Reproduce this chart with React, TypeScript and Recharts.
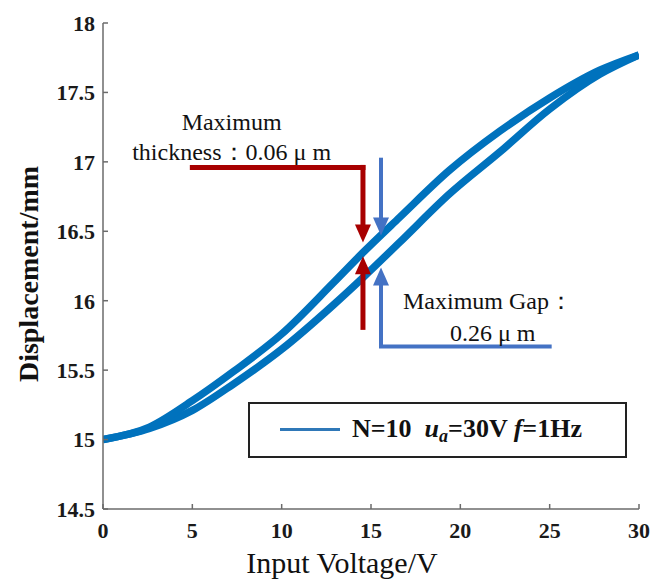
import { LineChart, Line, XAxis, YAxis, ReferenceLine, ReferenceDot, Legend, Label } from 'recharts'

// hysteresis loop
const voltage = [0, 2.6, 5, 7.3, 10, 12.9, 14.5, 16.6, 19.4, 22.2, 25, 27.8, 30]
const upperBranch = [15.0, 15.09, 15.28, 15.49, 15.76, 16.13, 16.34, 16.6, 16.94, 17.22, 17.46, 17.66, 17.77]
const lowerBranch = [15.0, 15.08, 15.21, 15.4, 15.65, 15.97, 16.16, 16.42, 16.77, 17.07, 17.38, 17.63, 17.77]

const xTicks = [0, 5, 10, 15, 20, 25, 30]
const yTicks = [14.5, 15, 15.5, 16, 16.5, 17, 17.5, 18]

const upperData = voltage.map((v, i) => ({ v, d: upperBranch[i] }))
const lowerData = voltage.map((v, i) => ({ v, d: lowerBranch[i] }))

const RED = '#a80000'
const BLUE = '#4472c4'
const CURVE = '#0072bd'
const AXIS = '#6b6b6b'
const SERIF = '"Liberation Serif", "Times New Roman", serif'

const tickStyle = { fontFamily: SERIF, fontWeight: 'bold', fontSize: 22, fill: '#1a1a1a' }

const Arrow = ({ cx, cy, color, dir }: any) => {
  const h = 18
  const w = 8
  const b = dir === 'down' ? cy - h : cy + h
  return <polygon points={`${cx},${cy} ${cx - w},${b} ${cx + w},${b}`} fill={color} />
}

const Note = ({ cx, cy, text, anchor }: any) => (
  <text x={cx} y={cy} textAnchor={anchor} fontFamily={SERIF} fontSize={24} fill="#111">
    {text}
  </text>
)

const LegendBox = () => (
  <div
    style={{
      boxSizing: 'border-box',
      width: 379,
      height: 56,
      border: '2.5px solid #222',
      background: '#fff',
      position: 'relative',
      fontFamily: SERIF,
      fontWeight: 'bold',
      fontSize: 26,
      color: '#111',
    }}
  >
    <div style={{ position: 'absolute', left: 30, top: 24, width: 60, height: 3, background: '#2f78b8' }} />
    <div style={{ position: 'absolute', left: 102, top: 10, whiteSpace: 'nowrap', lineHeight: '30px' }}>
      N=10&nbsp;&nbsp;<i>u</i>
      <i style={{ fontSize: 18, position: 'relative', top: 5 }}>a</i>=30V <i>f</i>=1Hz
    </div>
  </div>
)

export default function App() {
  return (
    <div style={{ position: 'absolute', left: 0, top: 0, background: '#fff' }}>
      <LineChart width={653} height={579} margin={{ top: 23, right: 14, bottom: 0, left: 0 }}>
        <XAxis
          dataKey="v"
          type="number"
          domain={[0, 30]}
          ticks={xTicks}
          height={70}
          stroke={AXIS}
          strokeWidth={1.5}
          tickSize={-5}
          tickMargin={18}
          tick={tickStyle}
          allowDataOverflow
        >
          <Label
            content={({ viewBox }: any) => (
              <text x={342} y={viewBox.y + 64} textAnchor="middle" fontFamily={SERIF} fontSize={30} fill="#111">
                Input Voltage/V
              </text>
            )}
          />
        </XAxis>
        <XAxis
          xAxisId="top"
          orientation="top"
          type="number"
          domain={[0, 30]}
          ticks={xTicks}
          height={0}
          stroke={AXIS}
          strokeWidth={1.5}
          tickSize={-5}
          tick={false}
        />
        <YAxis
          type="number"
          domain={[14.5, 18]}
          ticks={yTicks}
          width={103}
          stroke={AXIS}
          strokeWidth={1.5}
          tickSize={-5}
          tickMargin={13}
          tick={tickStyle}
          allowDataOverflow
        >
          <Label
            content={({ viewBox }: any) => {
              const cx = viewBox.x + 38
              const cy = viewBox.y + viewBox.height / 2 + 8
              return (
                <text
                  x={cx}
                  y={cy}
                  transform={`rotate(-90, ${cx}, ${cy})`}
                  textAnchor="middle"
                  fontFamily={SERIF}
                  fontWeight="bold"
                  fontSize={28}
                  fill="#111"
                >
                  Displacement/mm
                </text>
              )
            }}
          />
        </YAxis>
        <YAxis
          yAxisId="right"
          orientation="right"
          type="number"
          domain={[14.5, 18]}
          ticks={yTicks}
          width={0}
          stroke={AXIS}
          strokeWidth={1.5}
          tickSize={-5}
          tick={false}
        />

        <Line data={lowerData} dataKey="d" type="monotone" stroke={CURVE} strokeWidth={7.5} dot={false} isAnimationActive={false} />
        <Line data={upperData} dataKey="d" type="monotone" stroke={CURVE} strokeWidth={7.5} dot={false} isAnimationActive={false} />

        {/* thickness callout */}
        <ReferenceLine segment={[{ x: 5, y: 16.96 }, { x: 14.55, y: 16.96 }]} stroke={RED} strokeWidth={5} strokeLinecap="square" />
        <ReferenceLine segment={[{ x: 14.55, y: 16.96 }, { x: 14.55, y: 16.54 }]} stroke={RED} strokeWidth={5} strokeLinecap="square" />
        <ReferenceDot x={14.55} y={16.42} shape={(p: any) => <Arrow {...p} color={RED} dir="down" />} />
        <ReferenceLine segment={[{ x: 14.55, y: 15.79 }, { x: 14.55, y: 16.2 }]} stroke={RED} strokeWidth={5} />
        <ReferenceDot x={14.55} y={16.32} shape={(p: any) => <Arrow {...p} color={RED} dir="up" />} />

        {/* gap callout */}
        <ReferenceLine segment={[{ x: 15.56, y: 17.03 }, { x: 15.56, y: 16.56 }]} stroke={BLUE} strokeWidth={4} />
        <ReferenceDot x={15.56} y={16.47} shape={(p: any) => <Arrow {...p} color={BLUE} dir="down" />} />
        <ReferenceLine segment={[{ x: 25, y: 15.67 }, { x: 15.56, y: 15.67 }]} stroke={BLUE} strokeWidth={4} strokeLinecap="square" />
        <ReferenceLine segment={[{ x: 15.56, y: 15.67 }, { x: 15.56, y: 16.14 }]} stroke={BLUE} strokeWidth={4} />
        <ReferenceDot x={15.56} y={16.24} shape={(p: any) => <Arrow {...p} color={BLUE} dir="up" />} />

        <ReferenceDot x={7.2} y={17.23} shape={(p: any) => <Note {...p} text="Maximum" anchor="middle" />} />
        <ReferenceDot x={7.2} y={17.01} shape={(p: any) => <Note {...p} text="thickness：0.06  μ m" anchor="middle" />} />
        <ReferenceDot x={16.79} y={15.94} shape={(p: any) => <Note {...p} text="Maximum Gap：" anchor="start" />} />
        <ReferenceDot x={19.42} y={15.71} shape={(p: any) => <Note {...p} text="0.26  μ m" anchor="start" />} />

        <Legend
          layout="vertical"
          align="center"
          verticalAlign="middle"
          content={() => <LegendBox />}
          wrapperStyle={{ left: 248, top: 402, width: 379, height: 56 }}
        />
      </LineChart>
    </div>
  )
}
